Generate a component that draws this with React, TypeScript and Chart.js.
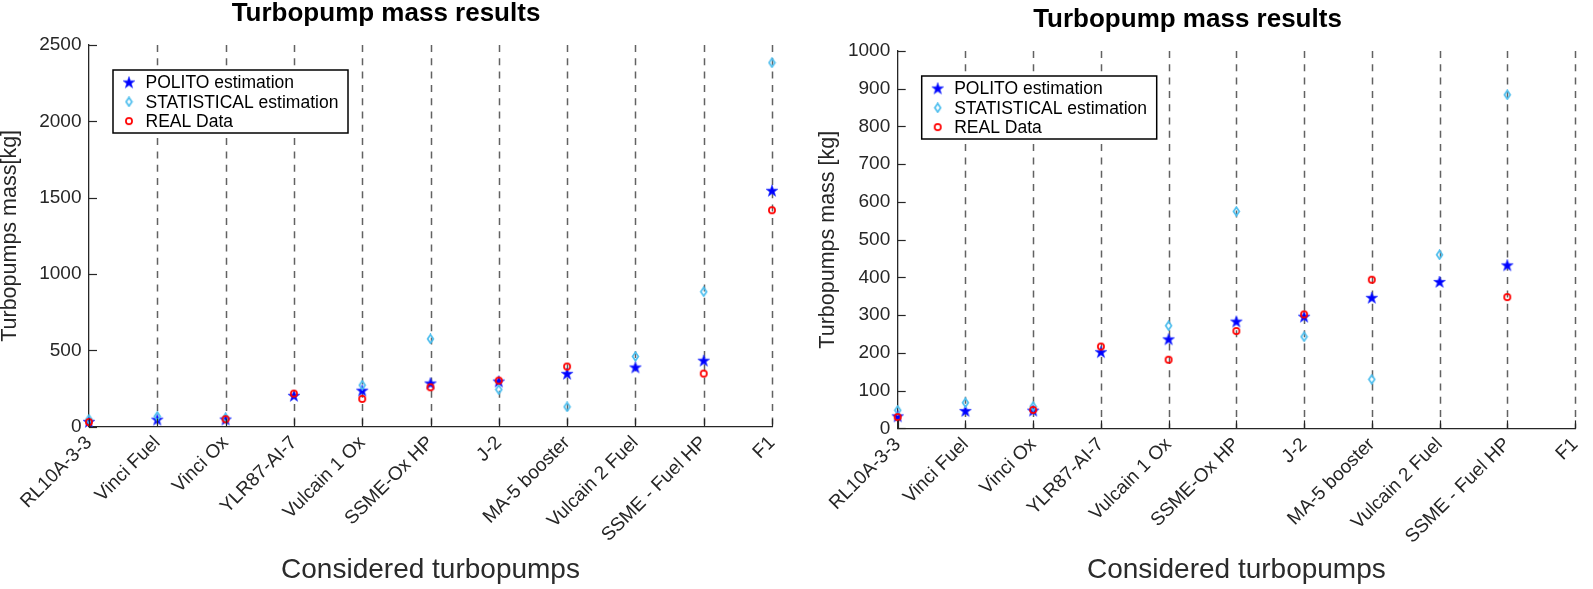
import React, { useEffect, useRef } from 'react';
import { Chart, registerables } from 'chart.js';

Chart.register(...registerables);

const categories = [
  'RL10A-3-3', 'Vinci Fuel', 'Vinci Ox', 'YLR87-AI-7', 'Vulcain 1 Ox', 'SSME-Ox HP',
  'J-2', 'MA-5 booster', 'Vulcain 2 Fuel', 'SSME - Fuel HP', 'F1',
];
const politoEstimation = [32, 46, 47, 202, 236, 283, 296, 346, 388, 432, 1545];
const statisticalEstimation = [48, 68, 58, null, 272, 575, 243, 130, 460, 884, 2384];
const realData = [30, null, 49, 217, 182, 258, 302, 394, null, 348, 1418];
const seriesNames = ['POLITO estimation', 'STATISTICAL estimation', 'REAL Data'];
const leftYTicks = [0, 500, 1000, 1500, 2000, 2500];
const rightYTicks = [0, 100, 200, 300, 400, 500, 600, 700, 800, 900, 1000];
const chartTitle = 'Turbopump mass results';
const xTitle = 'Considered turbopumps';
const leftYTitle = 'Turbopumps mass[kg]';
const rightYTitle = 'Turbopumps mass [kg]';

const FONT = '"Liberation Sans", Arial, Helvetica, sans-serif';
const AXIS = '#262626';
const BLUE = '#0000ff';
const CYAN = 'rgb(77,190,238)';
const RED = '#ff0000';

function makeStar(): HTMLCanvasElement {
  const c = document.createElement('canvas');
  c.width = 14; c.height = 14;
  const ctx = c.getContext('2d')!;
  const cx = 7, cy = 7.3, R = 6.3, r = 2.5;
  ctx.beginPath();
  for (let i = 0; i < 10; i++) {
    const a = -Math.PI / 2 + (i * Math.PI) / 5;
    const rad = i % 2 === 0 ? R : r;
    const x = cx + rad * Math.cos(a);
    const y = cy + rad * Math.sin(a);
    if (i === 0) ctx.moveTo(x, y); else ctx.lineTo(x, y);
  }
  ctx.closePath();
  ctx.fillStyle = BLUE;
  ctx.fill();
  ctx.strokeStyle = 'rgba(40,60,255,0.7)';
  ctx.lineWidth = 0.8;
  ctx.stroke();
  return c;
}

function makeDiamond(): HTMLCanvasElement {
  const c = document.createElement('canvas');
  c.width = 9; c.height = 11;
  const ctx = c.getContext('2d')!;
  ctx.beginPath();
  ctx.moveTo(4.5, 1.2);
  ctx.lineTo(7.4, 5.5);
  ctx.lineTo(4.5, 9.8);
  ctx.lineTo(1.6, 5.5);
  ctx.closePath();
  ctx.strokeStyle = CYAN;
  ctx.lineWidth = 1.7;
  ctx.stroke();
  return c;
}

function makeCircle(): HTMLCanvasElement {
  const c = document.createElement('canvas');
  c.width = 10; c.height = 10;
  const ctx = c.getContext('2d')!;
  ctx.beginPath();
  ctx.arc(5, 5, 3.1, 0, Math.PI * 2);
  ctx.strokeStyle = RED;
  ctx.lineWidth = 1.7;
  ctx.stroke();
  return c;
}

type Layout = {
  width: number;
  yWidth: number;
  padRight: number;
  padTop: number;
  titleBottom: number;
  xHeight: number;
  yTitle: string;
  yTitlePad: number;
  yMax: number;
  yTicks: number[];
};

const matlabPlugin = {
  id: 'matlabLook',
  beforeDatasetsDraw(chart: any) {
    const { ctx, chartArea } = chart;
    const xs = chart.scales.x;
    ctx.save();
    ctx.strokeStyle = 'rgba(70,70,70,0.85)';
    ctx.lineWidth = 1.5;
    ctx.setLineDash([7, 6.3]);
    for (let i = 1; i < categories.length; i++) {
      const x = Math.round(xs.getPixelForValue(i)) + 0.5;
      ctx.beginPath();
      ctx.moveTo(x, chartArea.top);
      ctx.lineTo(x, chartArea.bottom);
      ctx.stroke();
    }
    ctx.restore();
  },
  afterDatasetsDraw(chart: any) {
    const { ctx, chartArea } = chart;
    const xs = chart.scales.x;
    const ys = chart.scales.y;
    ctx.save();
    ctx.strokeStyle = AXIS;
    ctx.lineWidth = 1.2;
    ctx.setLineDash([]);
    for (let i = 0; i < categories.length; i++) {
      const x = Math.round(xs.getPixelForValue(i)) + 0.5;
      ctx.beginPath();
      ctx.moveTo(x, chartArea.bottom);
      ctx.lineTo(x, chartArea.bottom - 8);
      ctx.stroke();
    }
    for (const t of ys.ticks) {
      const y = Math.round(ys.getPixelForValue(t.value)) + 0.5;
      ctx.beginPath();
      ctx.moveTo(chartArea.left, y);
      ctx.lineTo(chartArea.left + 8, y);
      ctx.stroke();
    }
    const lx = chartArea.left + 24;
    const ly = chartArea.top + 25;
    const lw = 235;
    const lh = 63;
    ctx.fillStyle = '#ffffff';
    ctx.fillRect(lx, ly, lw, lh);
    ctx.strokeStyle = '#000000';
    ctx.lineWidth = 1.5;
    ctx.strokeRect(lx, ly, lw, lh);
    ctx.font = `17.5px ${FONT}`;
    ctx.fillStyle = '#000000';
    ctx.textBaseline = 'middle';
    ctx.textAlign = 'left';
    chart.data.datasets.forEach((ds: any, i: number) => {
      const ry = ly + 12.5 + i * 19.3;
      const img = ds.pointStyle as HTMLCanvasElement;
      ctx.drawImage(img, lx + 16 - img.width / 2, ry - img.height / 2);
      ctx.fillText(ds.label, lx + 32.5, ry + 1);
    });
    ctx.restore();
  },
};

function buildChart(canvas: HTMLCanvasElement, L: Layout, markers: HTMLCanvasElement[]) {
  const seriesValues = [politoEstimation, statisticalEstimation, realData];
  const orders = [2, 1, 0];
  return new Chart(canvas, {
    type: 'line',
    data: {
      labels: categories,
      datasets: seriesValues.map((vals, i) => ({
        label: seriesNames[i],
        data: vals,
        showLine: false,
        pointStyle: markers[i],
        pointRadius: 5,
        borderWidth: 0,
        order: orders[i],
        clip: 10,
      })) as any,
    },
    options: {
      responsive: false,
      animation: false,
      events: [],
      layout: { padding: { left: 0, right: L.padRight, top: L.padTop, bottom: 0 } },
      plugins: {
        legend: { display: false },
        tooltip: { enabled: false },
        title: {
          display: true,
          text: chartTitle,
          color: '#000000',
          font: { family: FONT, size: 26, weight: 'bold', lineHeight: 1.05 },
          padding: { top: 0, bottom: L.titleBottom },
        },
      },
      scales: {
        x: {
          type: 'category',
          offset: false,
          grid: { display: false, drawTicks: false, tickLength: 0 },
          border: { display: true, color: AXIS, width: 1.3 },
          ticks: {
            autoSkip: false,
            maxRotation: 45,
            minRotation: 45,
            padding: 5,
            color: AXIS,
            font: { family: FONT, size: 19 },
          },
          title: {
            display: true,
            text: xTitle,
            color: '#2b2b2b',
            font: { family: FONT, size: 28, lineHeight: 1 },
            padding: { top: 0, bottom: 4.7 },
          },
          afterFit: (s: any) => {
            s.height = L.xHeight;
            s.paddingLeft = 0; s.paddingRight = 0; s.paddingTop = 0; s.paddingBottom = 0;
          },
        },
        y: {
          type: 'linear',
          min: 0,
          max: L.yMax,
          grid: { display: false, drawTicks: false, tickLength: 0 },
          border: { display: true, color: AXIS, width: 1.3 },
          afterBuildTicks: (s: any) => {
            s.ticks = L.yTicks.map((v) => ({ value: v }));
          },
          ticks: {
            padding: 7.5,
            color: AXIS,
            font: { family: FONT, size: 19 },
            callback: (v: any) => String(v),
          },
          title: {
            display: true,
            text: L.yTitle,
            color: AXIS,
            font: { family: FONT, size: 21.5, lineHeight: 0.9 },
            padding: { top: L.yTitlePad, bottom: 0 },
          },
          afterFit: (s: any) => {
            s.width = L.yWidth;
            s.paddingLeft = 0; s.paddingRight = 0; s.paddingTop = 0; s.paddingBottom = 0;
          },
        },
      },
    } as any,
    plugins: [matlabPlugin],
  });
}

const leftLayout: Layout = {
  width: 800, yWidth: 89, padRight: 28, padTop: 0, titleBottom: 17.7, xHeight: 162.3,
  yTitle: leftYTitle, yTitlePad: 0, yMax: 2500, yTicks: leftYTicks,
};
const rightLayout: Layout = {
  width: 793, yWidth: 97.7, padRight: 18, padTop: 5.7, titleBottom: 18, xHeight: 160.6,
  yTitle: rightYTitle, yTitlePad: 18.3, yMax: 1000, yTicks: rightYTicks,
};

export default function App() {
  const leftRef = useRef<HTMLCanvasElement>(null);
  const rightRef = useRef<HTMLCanvasElement>(null);

  useEffect(() => {
    const markers = [makeStar(), makeDiamond(), makeCircle()];
    const c1 = buildChart(leftRef.current!, leftLayout, markers);
    const c2 = buildChart(rightRef.current!, rightLayout, markers);
    return () => { c1.destroy(); c2.destroy(); };
  }, []);

  return (
    <div style={{ position: 'fixed', left: 0, top: 0, width: 1593, height: 589, background: '#ffffff' }}>
      <canvas ref={leftRef} width={800} height={589}
        style={{ position: 'absolute', left: 0, top: 0, width: 800, height: 589 }} />
      <canvas ref={rightRef} width={793} height={589}
        style={{ position: 'absolute', left: 800, top: 0, width: 793, height: 589 }} />
    </div>
  );
}
